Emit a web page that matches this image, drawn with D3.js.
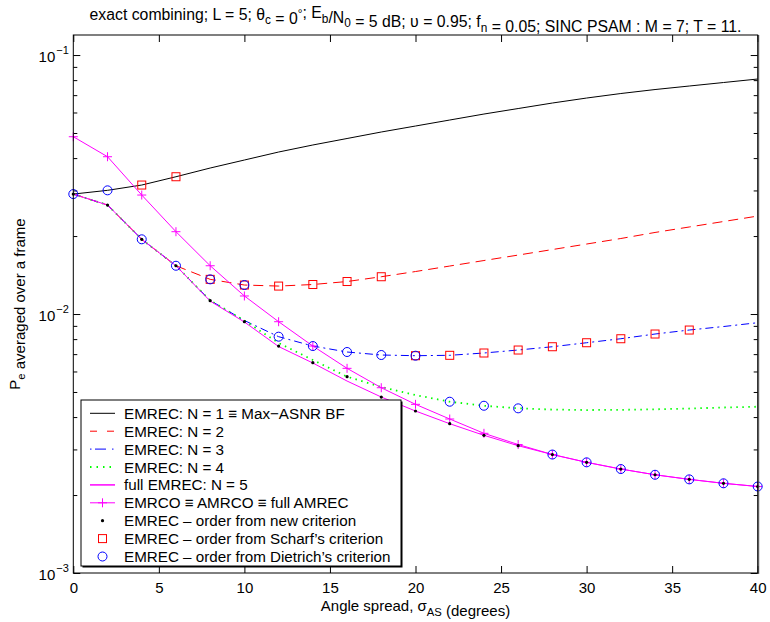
<!DOCTYPE html>
<html><head><meta charset="utf-8">
<script src="https://cdn.jsdelivr.net/npm/d3@7"></script>
<style>
body{margin:0;background:#fff}
svg{display:block}
text{font-family:"Liberation Sans",Arial,Helvetica,sans-serif;fill:#000}
</style>
</head><body>
<svg id="chart" width="770" height="622"></svg>
<script>
// ---------------- data ----------------
const angleSpread = [0,2,4,6,8,10,12,14,16,18,20,22,24,26,28,30,32,34,36,38,40];
const emrecN1 = [0.02905,0.03003,0.03148,0.03389,0.03662,0.03932,0.04222,0.04494,0.04761,0.05044,0.05320,0.05611,0.05918,0.06215,0.06527,0.06823,0.07102,0.07358,0.07592,0.07832,0.08079];
const emrecN2 = [0.02905,0.02635,0.01943,0.01536,0.01361,0.01294,0.01282,0.01300,0.01335,0.01393,0.01459,0.01532,0.01609,0.01689,0.01774,0.01863,0.01957,0.02065,0.02168,0.02276,0.02389];
const emrecN3 = [0.02905,0.02635,0.01943,0.01536,0.01128,0.009439,0.008175,0.007522,0.007134,0.006946,0.006903,0.006927,0.007071,0.007261,0.007476,0.007747,0.008027,0.008371,0.008673,0.008947,0.009256];
const emrecN4 = [0.02905,0.02635,0.01943,0.01536,0.01128,0.009439,0.007727,0.006645,0.005727,0.005225,0.004866,0.004585,0.004424,0.004323,0.004277,0.004258,0.004266,0.004285,0.004316,0.004355,0.004386];
const emrecN5 = [0.02905,0.02635,0.01943,0.01536,0.01122,0.009314,0.007489,0.006469,0.005511,0.004780,0.004222,0.003771,0.003401,0.003101,0.002867,0.002675,0.002520,0.002395,0.002299,0.002220,0.002158];
const emrco = [0.04837,0.04049,0.02880,0.02079,0.01536,0.01174,0.009339,0.007522,0.006170,0.005193,0.004480,0.003932,0.003462,0.003134,0.002867,0.002675,0.002520,0.002395,0.002299,0.002220,0.002158];
const orderNewCriterion = [0.02905,0.02635,0.01943,0.01536,0.01126,0.009339,0.007522,0.006486,0.005727,0.004780,0.004222,0.003771,0.003401,0.003101,0.002867,0.002675,0.002520,0.002395,0.002299,0.002220,0.002158];
const orderScharf = [null,null,0.03148,0.03389,0.01361,0.01294,0.01282,0.01300,0.01335,0.01393,0.006903,0.006927,0.007071,0.007261,0.007476,0.007747,0.008027,0.008371,0.008673,null,null];
const orderDietrich = [0.02905,0.03003,0.01943,0.01536,0.01361,0.01294,0.008175,0.007522,0.007134,0.006946,0.006903,0.004585,0.004424,0.004323,0.002867,0.002675,0.002520,0.002395,0.002299,0.002220,0.002158];
const xTicks = [0,5,10,15,20,25,30,35,40];
const yMajorTicks = [1e-3,1e-2,1e-1];
const yTickExponents = ["\u22123","\u22122","\u22121"];
const legendLabels = [
  "EMREC: N = 1 \u2261 Max\u2212ASNR BF",
  "EMREC: N = 2",
  "EMREC: N = 3",
  "EMREC: N = 4",
  "full EMREC: N = 5",
  "EMRCO \u2261 AMRCO \u2261 full AMREC",
  "EMREC \u2013 order from new criterion",
  "EMREC \u2013 order from Scharf\u2019s criterion",
  "EMREC \u2013 order from Dietrich\u2019s criterion"
];

// ---------------- layout ----------------
const L = 73.3, R = 757.7, T = 35, B = 573;
const svg = d3.select("#chart");
const x = d3.scaleLinear().domain([0,40]).range([L,R]);
const y = d3.scaleLog().domain([1e-3,0.1195]).range([B,T]);

const yMinor = [];
[1e-3,1e-2].forEach(d => { for (let k=2;k<=9;k++) yMinor.push(+(d*k).toPrecision(3)); });

function rich(sel, parts, size) {
  parts.forEach(p => {
    const t = sel.append("tspan").text(p[0]);
    if (p[1] === "sub") { t.attr("dy", size*0.3).attr("font-size", size*0.75); sel.append("tspan").attr("dy", -size*0.3).text(""); }
    if (p[1] === "sup") { t.attr("dy", -size*0.4).attr("font-size", size*0.75); sel.append("tspan").attr("dy", size*0.4).text(""); }
  });
}

// ---------------- axes ----------------
const gx = svg.append("g").attr("transform",`translate(0,${B})`)
  .call(d3.axisBottom(x).tickValues(xTicks).tickSizeInner(-7).tickSizeOuter(0).tickPadding(9));
const gxTop = svg.append("g").attr("transform",`translate(0,${T})`)
  .call(d3.axisTop(x).tickValues(xTicks).tickSizeInner(-7).tickSizeOuter(0).tickFormat(""));
const gy = svg.append("g").attr("transform",`translate(${L},0)`)
  .call(d3.axisLeft(y).tickValues(yMajorTicks).tickSizeInner(-7).tickSizeOuter(0).tickFormat(""));
const gyMin = svg.append("g").attr("transform",`translate(${L},0)`)
  .call(d3.axisLeft(y).tickValues(yMinor).tickSizeInner(-4).tickSizeOuter(0).tickFormat(""));
const gyR = svg.append("g").attr("transform",`translate(${R},0)`)
  .call(d3.axisRight(y).tickValues(yMajorTicks).tickSizeInner(-7).tickSizeOuter(0).tickFormat(""));
const gyRMin = svg.append("g").attr("transform",`translate(${R},0)`)
  .call(d3.axisRight(y).tickValues(yMinor).tickSizeInner(-4).tickSizeOuter(0).tickFormat(""));
[gx,gxTop,gy,gyMin,gyR,gyRMin].forEach(g => {
  g.select(".domain").remove();
  g.selectAll("line").attr("stroke","#000").attr("stroke-width",1);
});
gx.selectAll("text").attr("font-size",15).attr("font-family",null).attr("fill","#000");

gy.selectAll(".tick").each(function(d,i){
  d3.select(this).append("text").attr("x",-18).attr("y",6).attr("text-anchor","end").attr("font-size",15).attr("fill","#000").text("10");
  d3.select(this).append("text").attr("x",-17).attr("y",-1.5).attr("text-anchor","start").attr("font-size",11).attr("fill","#000").text(yTickExponents[i]);
});

// ---------------- series ----------------
const plotG = svg.append("g");
function series(vals) { return angleSpread.map((a,i)=>({x:a,v:vals[i]})); }
const line = d3.line().defined(d=>d.v!=null).x(d=>x(d.x)).y(d=>y(d.v));

const lineSeries = [
  {vals:emrecN1, color:"#000000", dash:null, w:1},
  {vals:emrecN2, color:"#ff0000", dash:"10,6", w:1},
  {vals:emrecN3, color:"#0000ff", dash:"8,4,2,4", w:1},
  {vals:emrecN4, color:"#00ff00", dash:"1.5,4.5", w:1.8},
  {vals:emrecN5, color:"#ff00ff", dash:null, w:1},
  {vals:emrco, color:"#ff00ff", dash:null, w:1}
];
lineSeries.forEach(s=>{
  plotG.append("path").datum(series(s.vals)).attr("d",line).attr("fill","none")
    .attr("stroke",s.color).attr("stroke-width",s.w).attr("stroke-dasharray",s.dash);
});

const plusPath = "M-4.5,0H4.5M0,-4.5V4.5";
plotG.append("g").selectAll("path").data(series(emrco)).join("path")
  .attr("transform",d=>`translate(${x(d.x)},${y(d.v)})`).attr("d",plusPath)
  .attr("stroke","#ff00ff").attr("stroke-width",1).attr("fill","none");
plotG.append("g").selectAll("circle").data(series(orderNewCriterion)).join("circle")
  .attr("cx",d=>x(d.x)).attr("cy",d=>y(d.v)).attr("r",1.6).attr("fill","#000");
plotG.append("g").selectAll("rect").data(series(orderScharf).filter(d=>d.v!=null)).join("rect")
  .attr("x",d=>x(d.x)-4).attr("y",d=>y(d.v)-4).attr("width",8).attr("height",8)
  .attr("fill","none").attr("stroke","#ff0000").attr("stroke-width",1);
plotG.append("g").selectAll("circle").data(series(orderDietrich)).join("circle")
  .attr("cx",d=>x(d.x)).attr("cy",d=>y(d.v)).attr("r",4.5)
  .attr("fill","none").attr("stroke","#0000ff").attr("stroke-width",1);

// frame
svg.append("rect").attr("x",L).attr("y",T).attr("width",R-L).attr("height",B-T)
  .attr("fill","none").attr("stroke","#000").attr("stroke-width",1);
svg.append("line").attr("x1",R+1).attr("x2",R+1).attr("y1",T).attr("y2",B+1).attr("stroke","#444").attr("stroke-width",1);

// ---------------- legend ----------------
const lg = svg.append("g");
const LX0 = 81, LY0 = 400, LW = 320, LH = 166, rowH = 17.9, row0 = 413.3;
lg.append("rect").attr("x",LX0+1.5).attr("y",LY0+1.5).attr("width",LW).attr("height",LH).attr("fill","#000");
lg.append("rect").attr("x",LX0).attr("y",LY0).attr("width",LW).attr("height",LH).attr("fill","#fff").attr("stroke","#000").attr("stroke-width",1);
const legendStyles = [
  {type:"line",color:"#000",dash:null,w:1},
  {type:"line",color:"#ff0000",dash:"7,10",w:1},
  {type:"line",color:"#0000ff",dash:"1.5,3.5,11,6",w:1},
  {type:"line",color:"#00ff00",dash:"1.5,5",w:1.8},
  {type:"line",color:"#ff00ff",dash:null,w:1.5},
  {type:"plus",color:"#ff00ff"},
  {type:"dot"},
  {type:"square"},
  {type:"circle"}
];
legendLabels.forEach((lab,i)=>{
  const cy = row0 + i*rowH;
  const st = legendStyles[i];
  if (st.type==="line" || st.type==="plus") {
    lg.append("line").attr("x1",90).attr("x2",115).attr("y1",cy).attr("y2",cy)
      .attr("stroke",st.color).attr("stroke-width",st.w||1).attr("stroke-dasharray",st.dash||null);
  }
  if (st.type==="plus") lg.append("path").attr("d",plusPath).attr("transform",`translate(102.5,${cy})`).attr("stroke","#ff00ff").attr("fill","none");
  if (st.type==="dot") lg.append("circle").attr("cx",102.5).attr("cy",cy).attr("r",1.6).attr("fill","#000");
  if (st.type==="square") lg.append("rect").attr("x",98.5).attr("y",cy-4).attr("width",8).attr("height",8).attr("fill","none").attr("stroke","#ff0000");
  if (st.type==="circle") lg.append("circle").attr("cx",102.5).attr("cy",cy).attr("r",4.5).attr("fill","none").attr("stroke","#0000ff");
  lg.append("text").attr("x",124).attr("y",cy+5.5).attr("font-size",15.2).text(lab);
});

// ---------------- titles ----------------
const title = svg.append("text").attr("x",(L+R)/2).attr("y",19.5).attr("text-anchor","middle").attr("font-size",15.8);
rich(title, [["exact combining; L = 5; \u03b8"],["c","sub"],[" = 0"],["\u00b0","sup"],["; E"],["b","sub"],["/N"],["0","sub"],[" = 5 dB; \u03c5 = 0.95; f"],["n","sub"],[" = 0.05; SINC PSAM : M = 7; T = 11."]], 15.8);

const xl = svg.append("text").attr("x",(L+R)/2).attr("y",611).attr("text-anchor","middle").attr("font-size",15);
rich(xl, [["Angle spread, \u03c3"],["AS","sub"],[" (degrees)"]], 15);

const yl = svg.append("text").attr("transform",`translate(20,${(T+B)/2}) rotate(-90)`).attr("text-anchor","middle").attr("font-size",15);
rich(yl, [["P"],["e","sub"],[" averaged over a frame"]], 15);
</script>
</body></html>
